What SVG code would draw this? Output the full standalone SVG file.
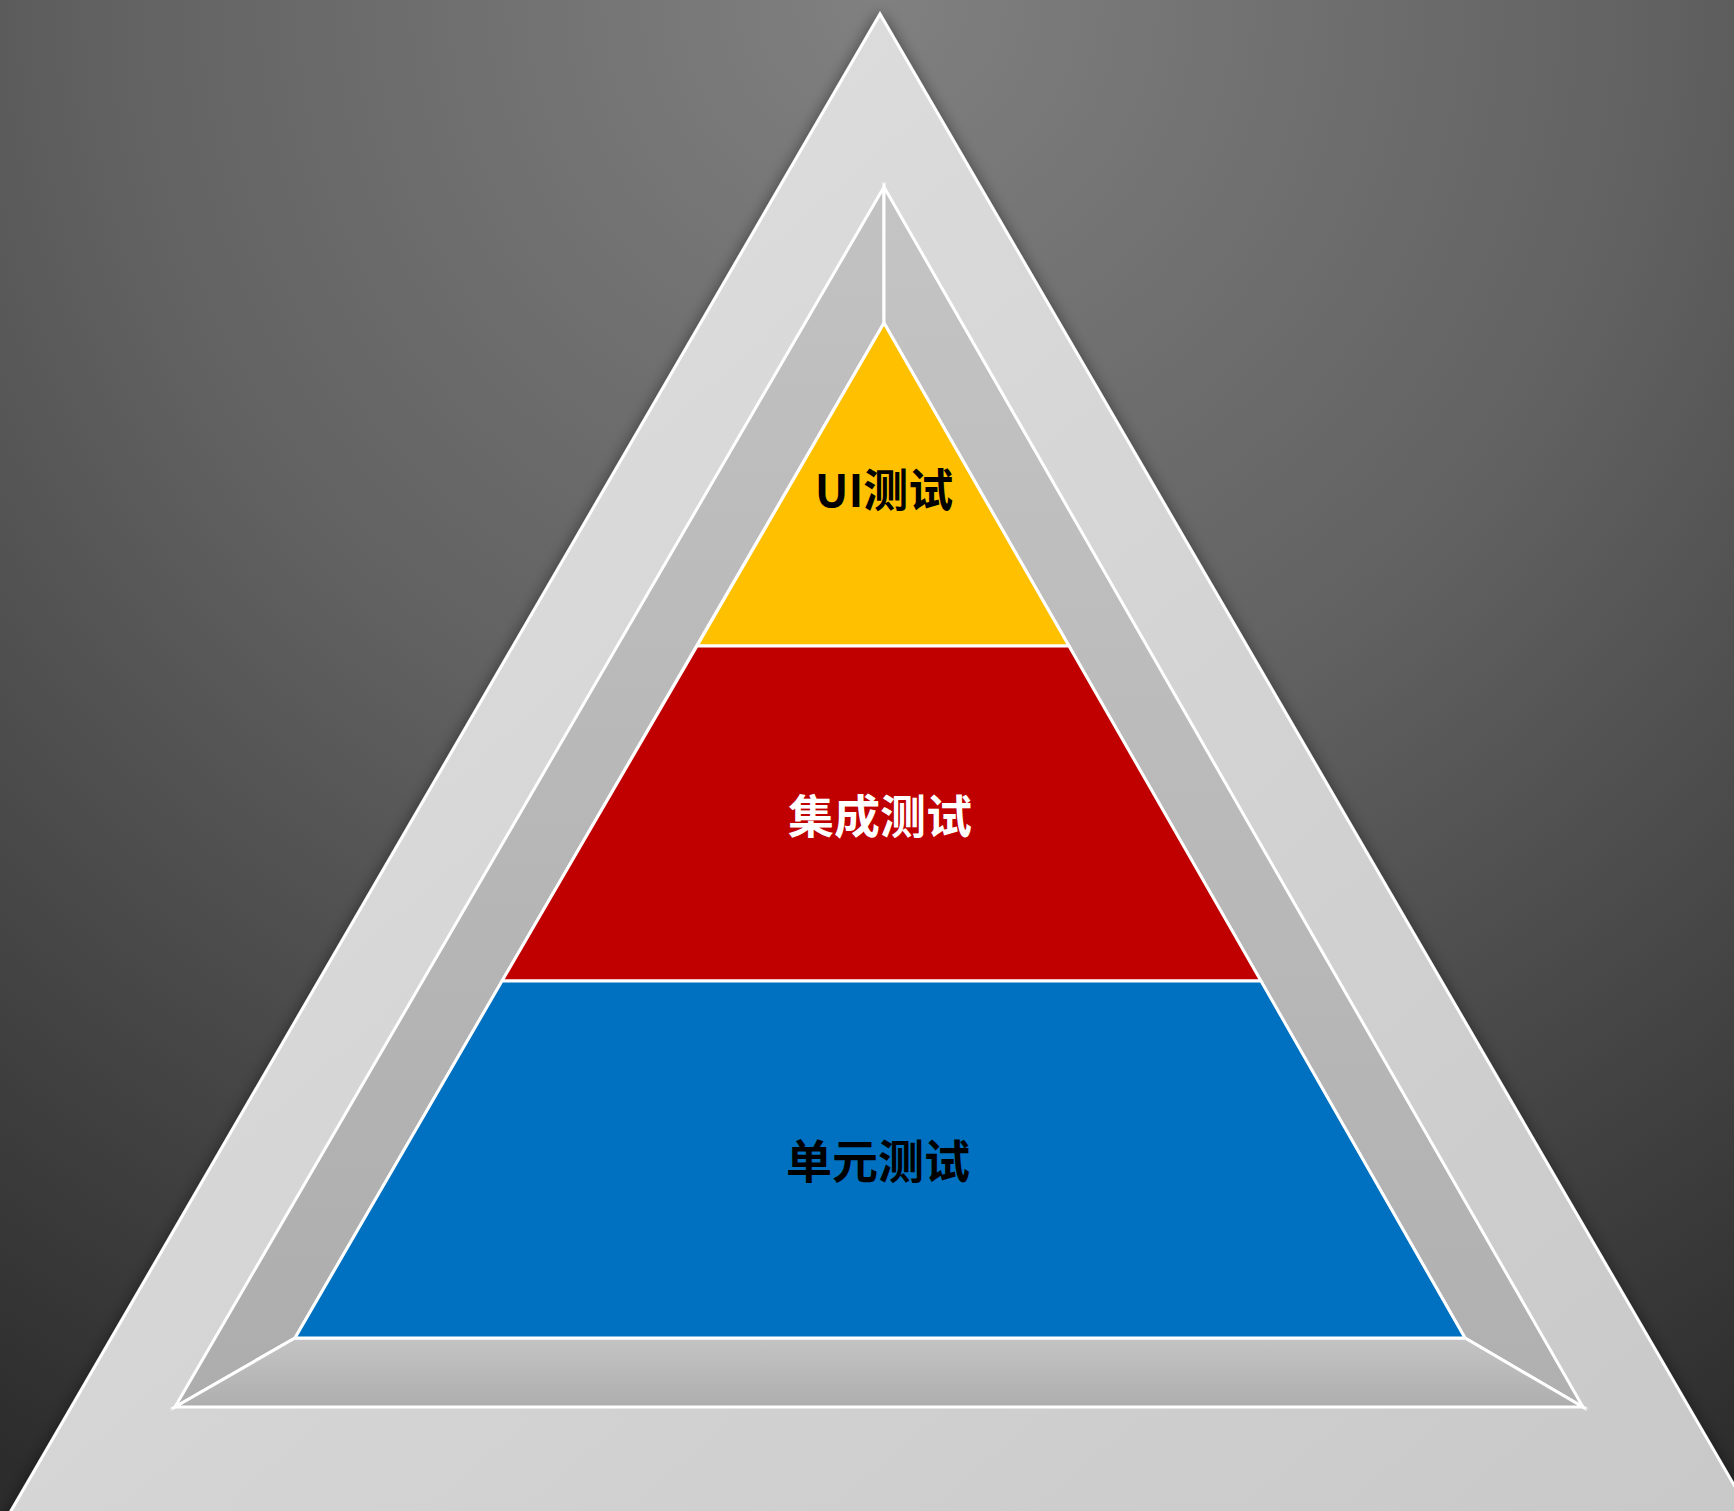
<svg xmlns="http://www.w3.org/2000/svg" width="1734" height="1511" viewBox="0 0 1734 1511">
<defs>
<radialGradient id="bg" cx="880" cy="0" r="1700" gradientUnits="userSpaceOnUse">
<stop offset="0" stop-color="#808080"/>
<stop offset="0.45" stop-color="#626262"/>
<stop offset="1" stop-color="#2c2c2c"/>
</radialGradient>
<linearGradient id="outerFill" x1="0" y1="0" x2="1" y2="1">
<stop offset="0" stop-color="#e2e2e2"/>
<stop offset="1" stop-color="#c8c8c8"/>
</linearGradient>
<linearGradient id="leftFace" x1="0" y1="0" x2="0" y2="1">
<stop offset="0" stop-color="#c2c2c2"/>
<stop offset="1" stop-color="#adadad"/>
</linearGradient>
<linearGradient id="rightFace" x1="0" y1="0" x2="0" y2="1">
<stop offset="0" stop-color="#c4c4c4"/>
<stop offset="1" stop-color="#b0b0b0"/>
</linearGradient>
<linearGradient id="bottomFace" x1="0" y1="0" x2="0" y2="1">
<stop offset="0" stop-color="#c4c4c4"/>
<stop offset="1" stop-color="#aeaeae"/>
</linearGradient>
<filter id="shadow" x="-10%" y="-10%" width="120%" height="120%">
<feGaussianBlur in="SourceAlpha" stdDeviation="8"/>
<feOffset dx="0" dy="2" result="b"/>
<feComponentTransfer><feFuncA type="linear" slope="0.5"/></feComponentTransfer>
<feMerge><feMergeNode/><feMergeNode in="SourceGraphic"/></feMerge>
</filter>
<style>
.edge{stroke:#ffffff;stroke-width:3;stroke-linejoin:miter}
.lbl{font-family:"Noto Sans CJK SC","Noto Sans",sans-serif;font-weight:bold;text-anchor:middle;dominant-baseline:central}
</style>
</defs>
<rect id="background" x="0" y="0" width="1734" height="1511" fill="url(#bg)"/>
<g id="outer-triangle">
<polygon points="880,14 -3,1535 1763,1535" fill="url(#outerFill)" stroke="#ffffff" stroke-width="3" filter="url(#shadow)"/>
</g>
<g id="frame">
<polygon points="884,187 175,1407 295,1338 884,323" fill="url(#leftFace)" class="edge"/>
<polygon points="884,187 1583,1407 1465,1338 884,323" fill="url(#rightFace)" class="edge"/>
<polygon points="175,1407 1583,1407 1465,1338 295,1338" fill="url(#bottomFace)" class="edge"/>
</g>
<g id="connectors"></g>
<g id="layer-ui">
<polygon points="884,323 697,646 1069,646" fill="#FFC000" class="edge"/>
<text class="lbl" x="884" y="487" font-size="45" fill="#000000">UI测试</text>
</g>
<g id="layer-integration">
<polygon points="697,646 1069,646 1261,981 502,981" fill="#C00000" class="edge"/>
<text class="lbl" x="880" y="813" font-size="46" fill="#ffffff">集成测试</text>
</g>
<g id="layer-unit">
<polygon points="502,981 1261,981 1465,1338 295,1338" fill="#0070C0" class="edge"/>
<text class="lbl" x="878" y="1158" font-size="46" fill="#000000">单元测试</text>
</g>
</svg>
